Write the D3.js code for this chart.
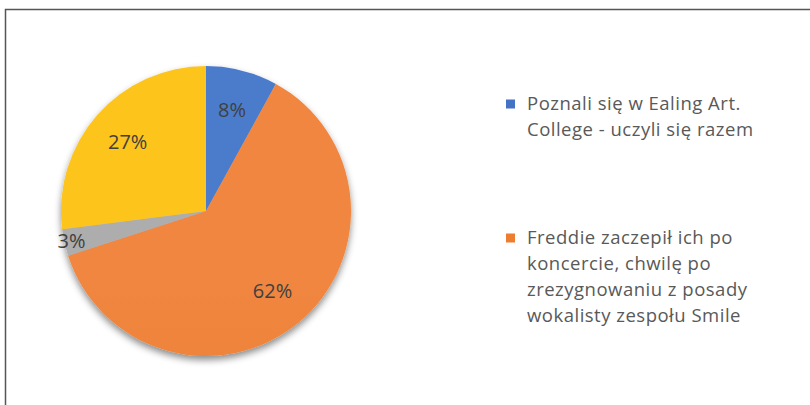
<!DOCTYPE html>
<html>
<head>
<meta charset="utf-8">
<script src="https://cdn.jsdelivr.net/npm/d3@7"></script>
<style>
  body { margin: 0; background: #fff; }
  text { font-family: "Open Sans", "Noto Sans", sans-serif; }
</style>
</head>
<body>
<div id="chart"></div>
<script>
// pie slices, clockwise from 12 o'clock
const values = [8, 62, 3, 27];
const colors = ["#4472C4", "#ED7D31", "#A5A5A5", "#FFC000"];
const lighter = ["#4C7BCB", "#F08640", "#ADADAD", "#FDC41F"];
// legend (only two entries are visible in the original)
const legendLines = [
    ["Poznali się w Ealing Art.", "College - uczyli się razem"],
    ["Freddie zaczepił ich po", "koncercie, chwilę po", "zrezygnowaniu z posady", "wokalisty zespołu Smile"]
];

const width = 810, height = 405;
const cx = 206, cy = 211, radius = 145;

const svg = d3.select("#chart").append("svg")
    .attr("width", width)
    .attr("height", height);

// frame
svg.append("rect")
    .attr("x", 5.5).attr("y", 9.5)
    .attr("width", 820).attr("height", 420)
    .attr("fill", "#fff")
    .attr("stroke", "#555")
    .attr("stroke-width", 1.5);

const defs = svg.append("defs");

const shadow = defs.append("filter")
    .attr("id", "shadow")
    .attr("x", "-20%").attr("y", "-20%")
    .attr("width", "140%").attr("height", "140%");
shadow.append("feDropShadow")
    .attr("dx", 0).attr("dy", 4)
    .attr("stdDeviation", 3.5)
    .attr("flood-color", "#000")
    .attr("flood-opacity", 0.45);

colors.forEach((c, i) => {
    const g = defs.append("linearGradient")
        .attr("id", "grad" + i)
        .attr("gradientUnits", "userSpaceOnUse")
        .attr("x1", 0).attr("y1", cy - radius)
        .attr("x2", 0).attr("y2", cy + radius);
    g.append("stop").attr("offset", "0%").attr("stop-color", lighter[i]);
    g.append("stop").attr("offset", "100%").attr("stop-color", c);
});

const pie = d3.pie().sort(null).value(d => d);
const arcs = pie(values);

const arc = d3.arc().innerRadius(0).outerRadius(radius);

const pieG = svg.append("g")
    .attr("transform", `translate(${cx},${cy})`);

pieG.append("g")
    .attr("filter", "url(#shadow)")
    .selectAll("path")
    .data(arcs)
    .enter()
    .append("path")
    .attr("d", arc)
    .attr("fill", (d, i) => "url(#grad" + i + ")");

// label radius per slice (Excel "best fit" style placement)
const labelArc = d3.arc().innerRadius(radius * 0.72).outerRadius(radius * 0.72);
const outerLabelArc = d3.arc().innerRadius(radius * 0.95).outerRadius(radius * 0.95);

pieG.selectAll("text.lbl")
    .data(arcs)
    .enter()
    .append("text")
    .attr("class", "lbl")
    .attr("transform", (d, i) => {
        const p = (d.data < 5 ? outerLabelArc : labelArc).centroid(d);
        return `translate(${p[0]},${p[1]})`;
    })
    .attr("text-anchor", "middle")
    .attr("dy", "0.35em")
    .attr("font-size", 20)
    .attr("fill", "#404040")
    .text(d => d.data + "%");

// legend
const legend = svg.append("g")
    .attr("transform", "translate(506, 0)");

const entryY = [104, 238];
const lineH = 26;

legendLines.forEach((lines, i) => {
    const g = legend.append("g")
        .attr("transform", `translate(0, ${entryY[i]})`);
    g.append("rect")
        .attr("x", 0).attr("y", -4.5)
        .attr("width", 9).attr("height", 9)
        .attr("fill", colors[i]);
    g.selectAll("text")
        .data(lines)
        .enter()
        .append("text")
        .attr("x", 21)
        .attr("y", (d, j) => j * lineH)
        .attr("dy", "0.35em")
        .attr("font-size", 18.5)
        .attr("letter-spacing", 0.5)
        .attr("fill", "#595959")
        .text(d => d);
});
</script>
</body>
</html>
